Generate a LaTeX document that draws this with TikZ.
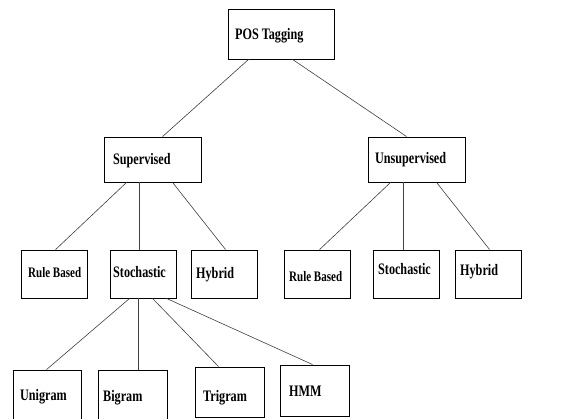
\documentclass[tikz,border=0pt]{standalone}
\usepackage{fontspec}
\setmainfont[FakeStretch=0.76]{Liberation Serif}
\usetikzlibrary{calc}
\begin{document}
\begin{tikzpicture}[x=1pt,y=-1pt,
  box/.style={draw=black,line width=0.9pt,inner sep=0pt,rectangle},
  lbl/.style={anchor=base west,inner sep=0pt,font=\fontsize{16}{18}\selectfont\bfseries},
  slbl/.style={lbl,font=\fontsize{14.5}{16}\selectfont\bfseries},
  conn/.style={draw=black!75,line width=0.6pt}]
\clip (0,0) rectangle (588,419);
\fill[white] (0,0) rectangle (588,419);
% boxes
\node[box,minimum width=106,minimum height=50] (pos) at (281,34) {};
\node[box,minimum width=97,minimum height=45] (sup) at (152.5,159.5) {};
\node[box,minimum width=97,minimum height=45] (uns) at (416.5,159.5) {};
\node[box,minimum width=66,minimum height=48] (rb1) at (54,274) {};
\node[box,minimum width=66,minimum height=48] (st1) at (143,274) {};
\node[box,minimum width=66,minimum height=48] (hy1) at (224,274) {};
\node[box,minimum width=66,minimum height=48] (rb2) at (317,274) {};
\node[box,minimum width=66,minimum height=48] (st2) at (406,274) {};
\node[box,minimum width=66,minimum height=48] (hy2) at (488,274) {};
\node[box,minimum width=68,minimum height=60] (uni) at (47,400) {};
\node[box,minimum width=69,minimum height=60] (big) at (132.5,400) {};
\node[box,minimum width=69,minimum height=50] (tri) at (229.5,392) {};
\node[box,minimum width=69,minimum height=51] (hmm) at (314.5,390.5) {};
% labels
\node[lbl] (tpos) at (235,40) {POS Tagging};
\node[lbl] (tsup) at (113,165) {Supervised};
\node[lbl] (tuns) at (375,164) {Unsupervised};
\node[slbl] (trb1) at (28,277) {Rule Based};
\node[lbl] (tst1) at (113,277.5) {Stochastic};
\node[lbl] (thy1) at (196,278.5) {Hybrid};
\node[slbl] (trb2) at (289,281) {Rule Based};
\node[lbl] (tst2) at (378,275) {Stochastic};
\node[lbl] (thy2) at (460,276) {Hybrid};
\node[lbl] (tuni) at (20,400) {Unigram};
\node[lbl] (tbig) at (103,401) {Bigram};
\node[lbl] (ttri) at (203,401) {Trigram};
\node[lbl] (thmm) at (289,396) {HMM};
% connectors
\draw[conn] ($(pos.south west)+(21,0)$) -- ($(sup.north west)+(59,0)$);
\draw[conn] ($(pos.south west)+(65,0)$) -- ($(uns.north west)+(39,0)$);
\draw[conn] ($(sup.south west)+(23,0)$) -- ($(rb1.north west)+(35,0)$);
\draw[conn] ($(sup.south west)+(36,0)$) -- ($(st1.north west)+(30,0)$);
\draw[conn] ($(sup.south west)+(69,0)$) -- ($(hy1.north west)+(35,0)$);
\draw[conn] ($(uns.south west)+(23,0)$) -- ($(rb2.north west)+(36,0)$);
\draw[conn] ($(uns.south west)+(36,0)$) -- ($(st2.north west)+(31,0)$);
\draw[conn] ($(uns.south west)+(69,0)$) -- ($(hy2.north west)+(35,0)$);
\draw[conn] ($(st1.south west)+(20,0)$) -- ($(uni.north west)+(34,0)$);
\draw[conn] ($(st1.south west)+(29,0)$) -- ($(big.north west)+(41,0)$);
\draw[conn] ($(st1.south west)+(43,0)$) -- ($(tri.north west)+(24,0)$);
\draw[conn] ($(st1.south west)+(57,0)$) -- ($(hmm.north west)+(33,0)$);
\end{tikzpicture}
\end{document}
